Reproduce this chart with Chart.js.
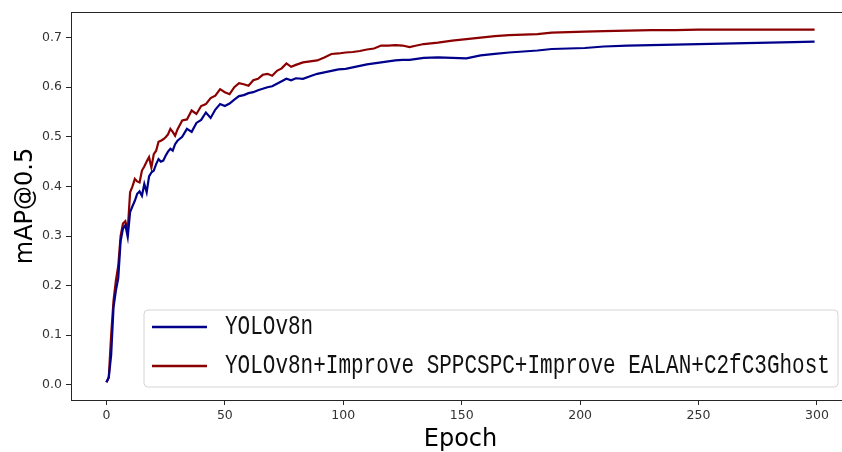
<!DOCTYPE html>
<html>
<head>
<meta charset="utf-8">
<script src="https://cdn.jsdelivr.net/npm/chart.js@4.4.1/dist/chart.umd.min.js"></script>
<style>
html,body{margin:0;padding:0;background:#fff;overflow:hidden}
#wrap{width:842px;height:452px;overflow:hidden}
</style>
</head>
<body>
<div id="wrap"><canvas id="map" width="852" height="452"></canvas></div>
<script>
// ===== DATA =====
const epochs=[0,1,2,3,4,5,6,7,8,9,10,11,12,13,14,15,16,17,18,19,20,21,22,23,24,25,26,27,28,29,30,
  32,34,36,38,40,42,44,46,48,50,52,54,56,58,60,62,64,66,68,70,72,74,76,78,80,
  83,86,89,92,95,98,101,104,107,110,113,116,119,122,125,128,131,134,
  140,146,152,158,164,170,176,182,188,195,202,210,220,230,240,250,260,270,280,290,299];
const yolo=[0.005,0.015,0.06,0.156,0.19,0.215,0.29,0.315,0.322,0.298,0.348,0.36,0.371,0.385,0.39,0.381,0.405,0.388,0.42,0.428,0.432,0.445,0.455,0.45,0.452,0.462,0.47,0.476,0.472,0.485,0.492,
  0.50,0.516,0.51,0.528,0.534,0.549,0.538,0.555,0.566,0.562,0.567,0.575,0.582,0.584,0.588,0.59,0.594,0.597,0.60,0.602,0.607,0.612,0.617,0.614,0.618,
  0.617,0.622,0.627,0.63,0.633,0.636,0.637,0.64,0.643,0.646,0.648,0.65,0.652,0.654,0.655,0.655,0.657,0.659,
  0.66,0.659,0.658,0.664,0.667,0.67,0.672,0.674,0.677,0.678,0.679,0.682,0.684,0.685,0.686,0.687,0.688,0.689,0.690,0.691,0.692];
const improved=[0.005,0.015,0.10,0.17,0.21,0.24,0.30,0.325,0.33,0.311,0.388,0.40,0.415,0.41,0.408,0.432,0.44,0.45,0.459,0.438,0.465,0.472,0.49,0.492,0.495,0.499,0.505,0.516,0.51,0.502,0.515,
  0.533,0.535,0.553,0.546,0.562,0.566,0.578,0.583,0.596,0.59,0.586,0.60,0.608,0.606,0.603,0.614,0.617,0.625,0.627,0.623,0.633,0.638,0.648,0.641,0.645,
  0.65,0.652,0.654,0.66,0.667,0.668,0.67,0.671,0.673,0.676,0.678,0.684,0.684,0.685,0.684,0.681,0.684,0.687,
  0.69,0.694,0.697,0.70,0.703,0.705,0.706,0.707,0.710,0.711,0.712,0.713,0.714,0.715,0.715,0.716,0.716,0.716,0.716,0.716,0.716];
const seriesNames=['YOLOv8n','YOLOv8n+Improve SPPCSPC+Improve EALAN+C2fC3Ghost'];
const xTicks=[0,50,100,150,200,250,300];
const yTicks=[0,0.1,0.2,0.3,0.4,0.5,0.6,0.7];

const BLUE='#00008B',RED='#8B0000',AXIS='#262626',TXT='#333';
const toPts=arr=>epochs.map((e,i)=>({x:e,y:arr[i]}));

// frame round the plot area (matplotlib style spines)
const frame={id:'frame',afterDatasetsDraw(c){
  const a=c.chartArea,ctx=c.ctx;
  ctx.save();ctx.strokeStyle=AXIS;ctx.lineWidth=1;
  ctx.strokeRect(Math.round(a.left)+0.5,Math.round(a.top)+0.5,Math.round(a.right-a.left),Math.round(a.bottom-a.top));
  ctx.restore();
}};

// legend box in the lower right, drawn from the datasets
const boxLegend={id:'boxLegend',afterDraw(c){
  const ctx=c.ctx,x0=144,y0=310,w=694,h=77,r=4;
  ctx.save();
  ctx.beginPath();
  ctx.moveTo(x0+r,y0);ctx.arcTo(x0+w,y0,x0+w,y0+h,r);ctx.arcTo(x0+w,y0+h,x0,y0+h,r);
  ctx.arcTo(x0,y0+h,x0,y0,r);ctx.arcTo(x0,y0,x0+w,y0,r);ctx.closePath();
  ctx.fillStyle='rgba(255,255,255,0.85)';ctx.fill();
  ctx.strokeStyle='#d4d4d4';ctx.lineWidth=1;ctx.stroke();
  c.data.datasets.forEach((d,i)=>{
    const y=327+i*39;
    ctx.strokeStyle=d.borderColor;ctx.lineWidth=2.4;
    ctx.beginPath();ctx.moveTo(152,y);ctx.lineTo(207,y);ctx.stroke();
    ctx.save();
    ctx.translate(225,y);ctx.scale(1,1.3);
    ctx.fillStyle='#111';ctx.font='21px "Liberation Mono"';ctx.textBaseline='middle';
    ctx.fillText(d.label,0,0);
    ctx.restore();
  });
  ctx.restore();
}};

new Chart(document.getElementById('map'),{type:'line',
  data:{datasets:[
    {label:seriesNames[0],data:toPts(yolo),borderColor:BLUE,borderWidth:2.2,pointRadius:0,tension:0},
    {label:seriesNames[1],data:toPts(improved),borderColor:RED,borderWidth:2.2,pointRadius:0,tension:0}
  ]},
  options:{responsive:false,animation:false,devicePixelRatio:1,
    layout:{padding:{top:12,right:2,left:0,bottom:0}},
    plugins:{legend:{display:false},tooltip:{enabled:false}},
    scales:{
      x:{type:'linear',min:-14.95,max:313.95,
        afterBuildTicks:s=>{s.ticks=xTicks.map(v=>({value:v}));},
        afterFit:s=>{s.height=52;},
        grid:{drawOnChartArea:false,drawTicks:true,tickLength:5,color:AXIS},border:{display:false},
        ticks:{padding:3,color:TXT,font:{family:'DejaVu Sans',size:12.5},maxRotation:0,callback:v=>String(v)},
        title:{display:true,text:'Epoch',color:'#000',font:{family:'DejaVu Sans',size:24,lineHeight:1},padding:{top:0,bottom:0}}},
      y:{type:'linear',min:-0.0306,max:0.7516,
        afterBuildTicks:s=>{s.ticks=yTicks.map(v=>({value:v}));},
        afterFit:s=>{s.width=71;},
        grid:{drawOnChartArea:false,drawTicks:true,tickLength:5,color:AXIS},border:{display:false},
        ticks:{padding:4,color:TXT,font:{family:'DejaVu Sans',size:12.5},callback:v=>v.toFixed(1)},
        title:{display:true,text:'mAP@0.5',color:'#000',font:{family:'DejaVu Sans',size:24,lineHeight:1},padding:{top:14,bottom:0}}}
    }},
  plugins:[frame,boxLegend]});
</script>
</body>
</html>
